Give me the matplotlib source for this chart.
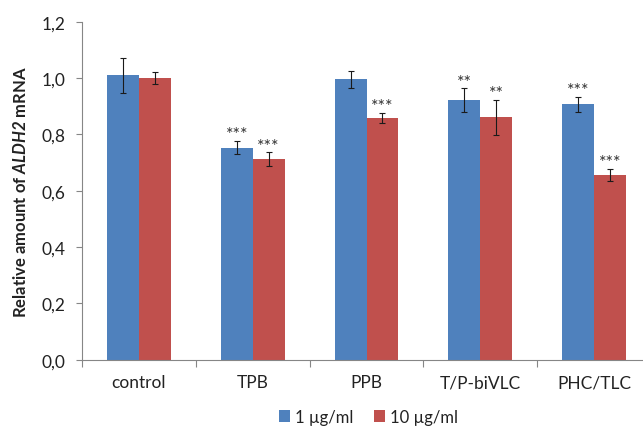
import matplotlib
matplotlib.use("Agg")
import matplotlib.pyplot as plt
import numpy as np
from matplotlib.ticker import FuncFormatter, FixedLocator

plt.rcParams['font.family'] = ['Lato', 'DejaVu Sans']
plt.rcParams['mathtext.fontset'] = 'custom'
plt.rcParams['mathtext.bfit'] = 'Lato:bold:italic'
plt.rcParams['mathtext.bf'] = 'Lato:bold'
plt.rcParams['mathtext.rm'] = 'Lato'

groups = ['control', 'TPB', 'PPB', 'T/P-biVLC', 'PHC/TLC']
low_vals = [1.01, 0.753, 0.995, 0.922, 0.907]
low_err = [0.062, 0.024, 0.03, 0.041, 0.027]
high_vals = [1.001, 0.712, 0.858, 0.860, 0.657]
high_err = [0.021, 0.024, 0.019, 0.063, 0.021]
low_sig = ['', '***', '', '**', '***']
high_sig = ['', '***', '***', '**', '***']

blue = '#4F81BD'
red = '#C0504D'
axis_col = '#868686'

fig = plt.figure(figsize=(6.43, 4.27), dpi=100)
ax = fig.add_axes([82 / 643, 66.3 / 427, 569 / 643, 338 / 427])

x = np.arange(len(groups))
w = 0.28
ekw = dict(ecolor='#1a1a1a', elinewidth=0.8, capsize=2.5, capthick=0.8)
ax.bar(x - w / 2, low_vals, w, yerr=low_err, color=blue, error_kw=ekw, label='1 µg/ml')
ax.bar(x + w / 2, high_vals, w, yerr=high_err, color=red, error_kw=ekw, label='10 µg/ml')

for i in range(len(groups)):
    if low_sig[i]:
        ax.annotate(low_sig[i], (x[i] - w / 2, low_vals[i] + low_err[i]), xytext=(0, -1),
                    textcoords='offset points', ha='center', va='bottom', fontsize=13, color='#333333')
    if high_sig[i]:
        ax.annotate(high_sig[i], (x[i] + w / 2, high_vals[i] + high_err[i]), xytext=(0, -1),
                    textcoords='offset points', ha='center', va='bottom', fontsize=13, color='#333333')

ax.set_xlim(-0.5, 4.5)
ax.set_ylim(0, 1.2)
ax.set_yticks(np.arange(0, 1.21, 0.2))
ax.yaxis.set_major_formatter(FuncFormatter(lambda v, p: f'{v:.1f}'.replace('.', ',')))

ax.xaxis.set_major_locator(FixedLocator(np.arange(-0.5, 4.6, 1)))
ax.xaxis.set_minor_locator(FixedLocator(x))
ax.set_xticklabels([], minor=False)
ax.set_xticklabels(groups, minor=True)
ax.tick_params(axis='x', which='major', length=5, width=0.8, color=axis_col, direction='out')
ax.tick_params(axis='x', which='minor', length=0, pad=10.5, labelsize=12.5, labelcolor='#222222')
ax.tick_params(axis='y', length=4, width=0.8, color=axis_col, direction='out', pad=8,
               labelsize=12.5, labelcolor='#222222')

for s in ['top', 'right']:
    ax.spines[s].set_visible(False)
for s in ['left', 'bottom']:
    ax.spines[s].set_color(axis_col)
    ax.spines[s].set_linewidth(0.8)
ax.spines['bottom'].set_clip_on(False)

ax.set_ylabel(r'Relative amount of $\mathbfit{ALDH2}$ mRNA', fontsize=12, fontweight='bold',
              color='#222222', labelpad=9)

fig.legend(loc='center', bbox_to_anchor=(368.5 / 643, 9 / 427), ncol=2, frameon=False,
           fontsize=12, handlelength=0.7, handleheight=0.7, handletextpad=0.3,
           columnspacing=1.2, labelcolor='#222222')

fig.savefig('out.png', dpi=100)
